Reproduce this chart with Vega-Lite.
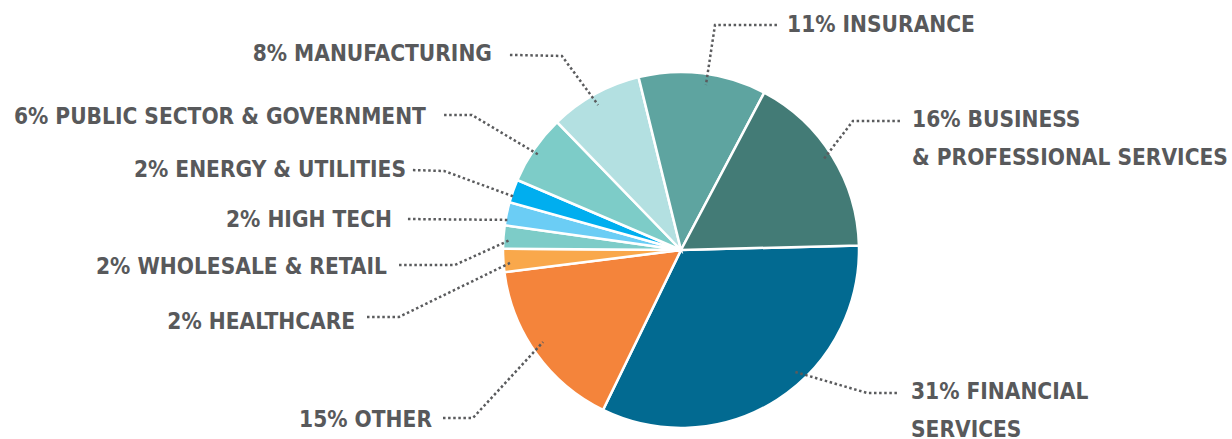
{
  "$schema": "https://vega.github.io/schema/vega-lite/v6.json",
  "width": 1232,
  "height": 439,
  "autosize": {"type": "fit", "contains": "padding"},
  "padding": 0,
  "background": "white",
  "config": {"view": {"stroke": null}},
  "datasets": {
    "slices": [
      {"sector": "Financial Services", "pct": 31, "ord": 1},
      {"sector": "Other", "pct": 15, "ord": 2},
      {"sector": "Healthcare", "pct": 2, "ord": 3},
      {"sector": "Wholesale & Retail", "pct": 2, "ord": 4},
      {"sector": "High Tech", "pct": 2, "ord": 5},
      {"sector": "Energy & Utilities", "pct": 2, "ord": 6},
      {"sector": "Public Sector & Government", "pct": 6, "ord": 7},
      {"sector": "Manufacturing", "pct": 8, "ord": 8},
      {"sector": "Insurance", "pct": 11, "ord": 9},
      {"sector": "Business & Professional Services", "pct": 16, "ord": 10}
    ],
    "leaders": [
      {"sector": "Manufacturing", "seq": 1, "x": -0.961, "y": 1.096},
      {"sector": "Manufacturing", "seq": 2, "x": -0.669, "y": 1.090},
      {"sector": "Manufacturing", "seq": 3, "x": -0.466, "y": 0.815},
      {"sector": "Public Sector & Government", "seq": 1, "x": -1.331, "y": 0.758},
      {"sector": "Public Sector & Government", "seq": 2, "x": -1.174, "y": 0.758},
      {"sector": "Public Sector & Government", "seq": 3, "x": -0.798, "y": 0.534},
      {"sector": "Energy & Utilities", "seq": 1, "x": -1.506, "y": 0.449},
      {"sector": "Energy & Utilities", "seq": 2, "x": -1.331, "y": 0.444},
      {"sector": "Energy & Utilities", "seq": 3, "x": -0.933, "y": 0.298},
      {"sector": "High Tech", "seq": 1, "x": -1.534, "y": 0.174},
      {"sector": "High Tech", "seq": 2, "x": -0.966, "y": 0.169},
      {"sector": "Wholesale & Retail", "seq": 1, "x": -1.584, "y": -0.084},
      {"sector": "Wholesale & Retail", "seq": 2, "x": -1.270, "y": -0.084},
      {"sector": "Wholesale & Retail", "seq": 3, "x": -0.961, "y": 0.056},
      {"sector": "Healthcare", "seq": 1, "x": -1.764, "y": -0.376},
      {"sector": "Healthcare", "seq": 2, "x": -1.584, "y": -0.376},
      {"sector": "Healthcare", "seq": 3, "x": -0.961, "y": -0.073},
      {"sector": "Other", "seq": 1, "x": -1.337, "y": -0.944},
      {"sector": "Other", "seq": 2, "x": -1.169, "y": -0.944},
      {"sector": "Other", "seq": 3, "x": -0.775, "y": -0.517},
      {"sector": "Financial Services", "seq": 1, "x": 1.213, "y": -0.803},
      {"sector": "Financial Services", "seq": 2, "x": 1.045, "y": -0.803},
      {"sector": "Financial Services", "seq": 3, "x": 0.640, "y": -0.685},
      {"sector": "Business & Professional Services", "seq": 1, "x": 1.230, "y": 0.725},
      {"sector": "Business & Professional Services", "seq": 2, "x": 0.966, "y": 0.725},
      {"sector": "Business & Professional Services", "seq": 3, "x": 0.798, "y": 0.506},
      {"sector": "Insurance", "seq": 1, "x": 0.539, "y": 1.264},
      {"sector": "Insurance", "seq": 2, "x": 0.191, "y": 1.264},
      {"sector": "Insurance", "seq": 3, "x": 0.140, "y": 0.927}
    ],
    "labels": [
      {"side": "L", "label": "8% MANUFACTURING", "x": -1.062, "y": 1.063},
      {"side": "L", "label": "6% PUBLIC SECTOR & GOVERNMENT", "x": -1.433, "y": 0.710},
      {"side": "L", "label": "2% ENERGY & UTILITIES", "x": -1.545, "y": 0.412},
      {"side": "L", "label": "2% HIGH TECH", "x": -1.624, "y": 0.131},
      {"side": "L", "label": "2% WHOLESALE & RETAIL", "x": -1.652, "y": -0.133},
      {"side": "L", "label": "2% HEALTHCARE", "x": -1.831, "y": -0.442},
      {"side": "L", "label": "15% OTHER", "x": -1.399, "y": -0.993},
      {"side": "R", "label": "11% INSURANCE", "x": 0.596, "y": 1.224},
      {"side": "R", "label": "16% BUSINESS\n& PROFESSIONAL SERVICES", "x": 1.298, "y": 0.690},
      {"side": "R", "label": "31% FINANCIAL\nSERVICES", "x": 1.292, "y": -0.835}
    ]
  },
  "layer": [
    {
      "data": {"name": "slices"},
      "mark": {"type": "arc", "outerRadius": 178, "stroke": "white", "strokeWidth": 2.5},
      "encoding": {
        "x": {"datum": 0, "type": "quantitative", "scale": {"domain": [-3.8258, 3.0955], "nice": false, "zero": false}, "axis": null},
        "y": {"datum": 0, "type": "quantitative", "scale": {"domain": [-1.0618, 1.4045], "nice": false, "zero": false}, "axis": null},
        "theta": {"field": "pct", "type": "quantitative", "stack": true, "scale": {"range": [1.545, 7.8282]}},
        "order": {"field": "ord", "type": "quantitative"},
        "color": {
          "field": "sector", "type": "nominal", "legend": null,
          "scale": {
            "domain": ["Financial Services", "Other", "Healthcare", "Wholesale & Retail", "High Tech", "Energy & Utilities", "Public Sector & Government", "Manufacturing", "Insurance", "Business & Professional Services"],
            "range": ["#026a91", "#f4843b", "#f9a84b", "#7dccc8", "#6bcdf5", "#00aeef", "#7dccc8", "#b3e0e1", "#5ea4a0", "#437b76"]
          }
        }
      }
    },
    {
      "data": {"name": "leaders"},
      "mark": {"type": "line", "strokeDash": [2.5, 2.6], "strokeWidth": 2.5, "color": "#5a5b5d", "strokeCap": "butt", "clip": true},
      "encoding": {
        "x": {"field": "x", "type": "quantitative", "scale": {"domain": [-3.8258, 3.0955], "nice": false, "zero": false}, "axis": null},
        "y": {"field": "y", "type": "quantitative", "scale": {"domain": [-1.0618, 1.4045], "nice": false, "zero": false}, "axis": null},
        "detail": {"field": "sector", "type": "nominal"},
        "order": {"field": "seq", "type": "quantitative"}
      }
    },
    {
      "data": {"name": "labels"},
      "transform": [{"filter": "datum.side === 'L'"}],
      "mark": {"type": "text", "align": "right", "baseline": "alphabetic", "font": "DejaVu Sans Condensed, sans-serif", "fontSize": 22.5, "fontWeight": "bold", "color": "#58595b", "lineBreak": "\n", "lineHeight": 38, "clip": true},
      "encoding": {
        "x": {"field": "x", "type": "quantitative", "scale": {"domain": [-3.8258, 3.0955], "nice": false, "zero": false}, "axis": null},
        "y": {"field": "y", "type": "quantitative", "scale": {"domain": [-1.0618, 1.4045], "nice": false, "zero": false}, "axis": null},
        "text": {"field": "label", "type": "nominal"}
      }
    },
    {
      "data": {"name": "labels"},
      "transform": [{"filter": "datum.side === 'R'"}],
      "mark": {"type": "text", "align": "left", "baseline": "alphabetic", "font": "DejaVu Sans Condensed, sans-serif", "fontSize": 22.5, "fontWeight": "bold", "color": "#58595b", "lineBreak": "\n", "lineHeight": 38, "clip": true},
      "encoding": {
        "x": {"field": "x", "type": "quantitative", "scale": {"domain": [-3.8258, 3.0955], "nice": false, "zero": false}, "axis": null},
        "y": {"field": "y", "type": "quantitative", "scale": {"domain": [-1.0618, 1.4045], "nice": false, "zero": false}, "axis": null},
        "text": {"field": "label", "type": "nominal"}
      }
    }
  ]
}
